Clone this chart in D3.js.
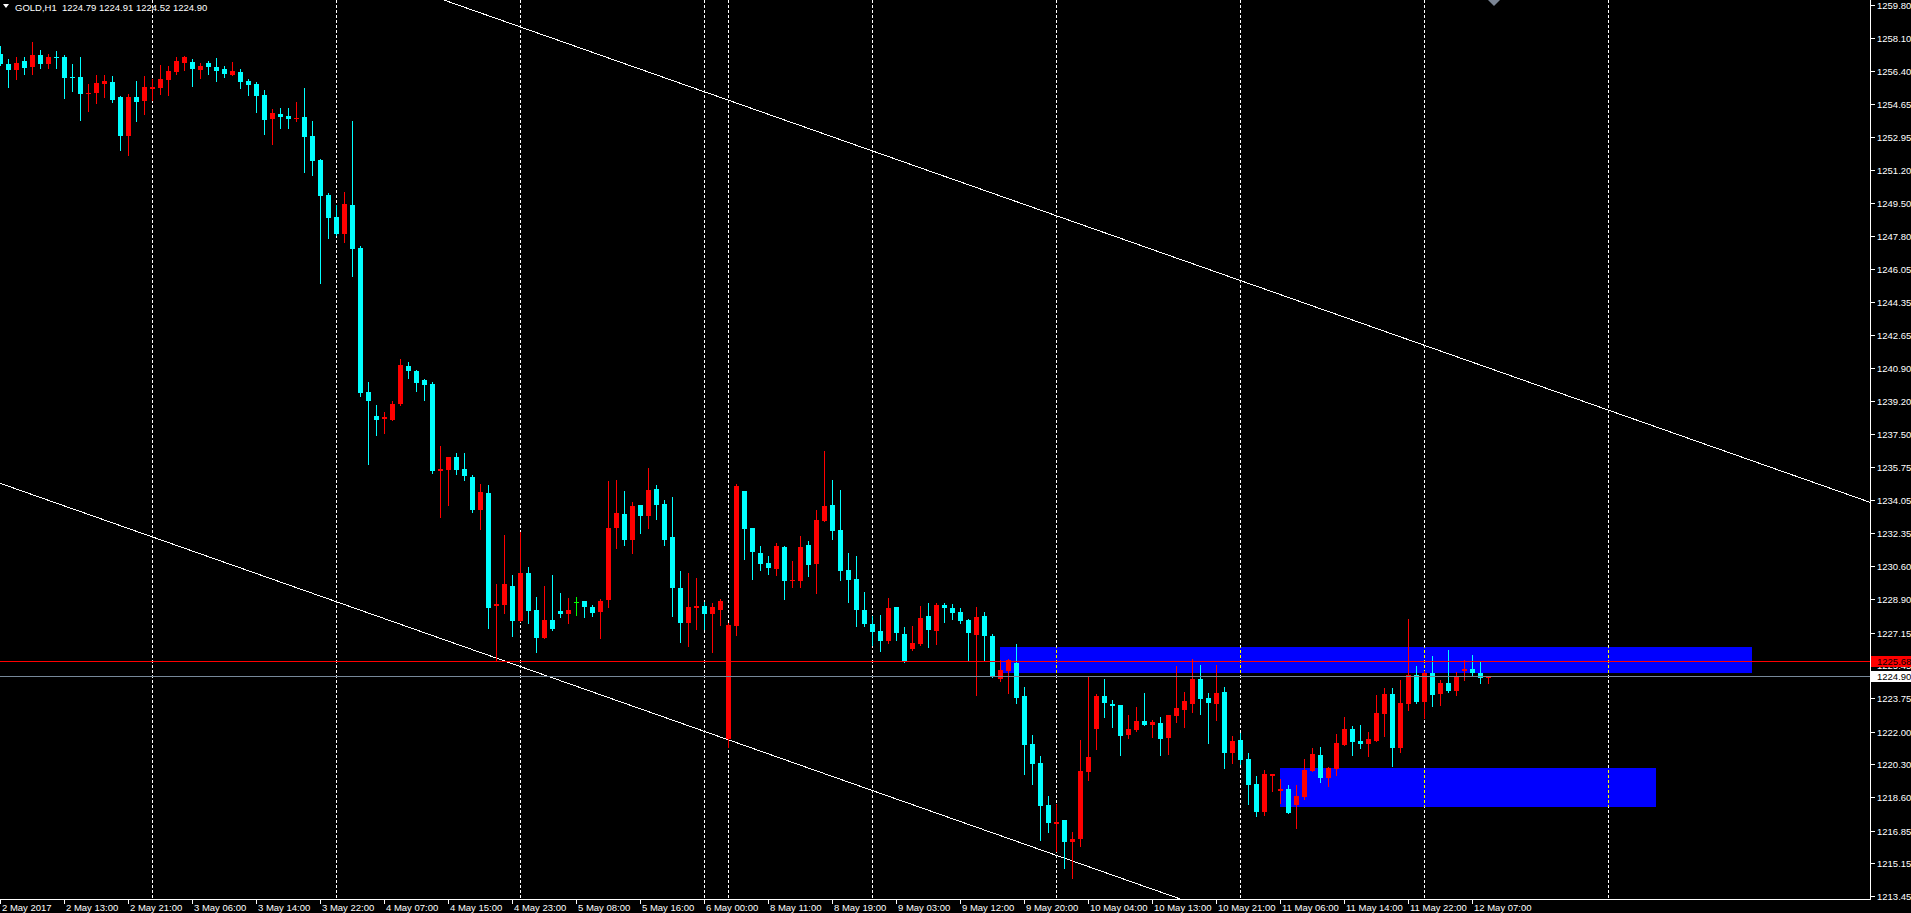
<!DOCTYPE html>
<html><head><meta charset="utf-8">
<script src="https://cdn.jsdelivr.net/npm/d3@7"></script>
<style>html,body{margin:0;padding:0;background:#000;overflow:hidden}svg{display:block}</style>
</head><body><svg id="c" width="1911" height="913"></svg>
<script>
// ---- data (hourly GOLD candles, bar index 0..186) ----
const open  = [1257.26,1256.74,1256.43,1256.90,1256.58,1257.21,1256.74,1257.10,1257.10,1256.06,1256.06,1255.20,1255.23,1255.70,1255.80,1255.02,1253.00,1255.02,1254.82,1255.44,1255.49,1255.91,1256.32,1256.79,1256.84,1256.43,1256.79,1256.58,1256.48,1256.17,1256.32,1255.86,1255.70,1255.13,1253.88,1254.14,1254.03,1253.89,1253.98,1253.00,1251.75,1249.92,1248.78,1247.90,1249.40,1247.17,1239.67,1238.43,1238.27,1238.22,1239.05,1241.03,1240.77,1240.30,1240.09,1235.56,1235.62,1236.29,1235.67,1235.25,1233.54,1234.42,1228.54,1228.59,1229.58,1227.76,1230.26,1228.33,1226.88,1227.81,1228.28,1228.12,1228.77,1228.80,1228.49,1228.23,1228.85,1232.60,1233.33,1231.97,1233.80,1233.22,1234.63,1233.85,1232.13,1229.48,1227.66,1228.44,1228.54,1228.12,1228.33,1221.62,1227.50,1234.52,1232.60,1231.30,1230.78,1230.46,1231.61,1229.84,1229.84,1231.71,1230.73,1232.96,1233.80,1232.49,1230.41,1229.94,1228.33,1227.60,1227.24,1226.72,1228.49,1227.08,1226.30,1226.56,1228.02,1227.24,1228.59,1228.44,1228.23,1227.81,1227.03,1228.02,1226.98,1224.74,1225.16,1225.57,1223.86,1221.36,1220.37,1218.19,1217.20,1217.40,1216.26,1216.42,1219.90,1222.14,1223.86,1223.44,1223.39,1221.83,1222.09,1222.56,1222.35,1222.45,1221.67,1222.82,1223.13,1223.44,1224.74,1223.75,1223.44,1224.07,1220.89,1221.57,1220.58,1219.28,1217.82,1219.70,1218.91,1219.02,1218.19,1218.60,1219.96,1220.79,1219.59,1220.06,1221.31,1222.14,1221.52,1221.36,1221.52,1222.92,1223.96,1221.15,1223.44,1224.95,1223.55,1225.05,1223.96,1224.53,1224.12,1225.16,1225.26,1225.05,1224.79];
const high  = [1257.68,1257.00,1257.09,1257.09,1257.88,1257.47,1257.26,1257.42,1257.21,1256.74,1257.10,1255.70,1256.17,1256.17,1256.12,1255.08,1255.18,1255.86,1256.12,1255.96,1256.69,1256.64,1257.10,1257.16,1257.00,1256.79,1256.90,1257.05,1256.64,1256.84,1256.48,1255.96,1255.80,1255.39,1254.40,1254.45,1254.45,1254.76,1255.49,1253.77,1251.80,1250.03,1249.40,1250.08,1253.77,1247.27,1240.19,1238.99,1238.63,1239.20,1241.39,1241.24,1240.82,1240.35,1240.19,1236.86,1236.32,1236.50,1236.50,1235.36,1234.89,1234.84,1229.68,1232.23,1230.15,1232.39,1230.57,1229.01,1229.58,1230.15,1229.22,1228.96,1229.01,1228.82,1228.59,1228.90,1235.04,1235.10,1234.52,1233.95,1233.82,1235.72,1234.84,1234.05,1234.21,1230.36,1230.26,1230.00,1228.75,1228.70,1228.90,1227.66,1234.89,1234.55,1232.62,1231.66,1231.14,1231.82,1231.66,1230.88,1232.18,1231.92,1233.54,1236.60,1235.10,1234.58,1231.30,1231.14,1229.27,1228.02,1228.07,1228.96,1228.51,1227.45,1227.50,1228.54,1228.70,1228.70,1228.70,1228.64,1228.44,1227.86,1228.49,1228.23,1227.08,1225.73,1225.78,1226.56,1224.33,1221.83,1220.74,1218.65,1218.24,1217.42,1216.78,1221.57,1224.85,1223.96,1224.74,1223.65,1223.41,1222.87,1223.29,1224.01,1222.61,1222.76,1222.89,1225.42,1224.07,1225.78,1225.47,1224.01,1225.47,1224.33,1221.78,1221.93,1220.89,1219.70,1220.01,1219.82,1219.54,1219.23,1219.23,1220.58,1221.15,1221.20,1220.16,1221.88,1222.76,1222.30,1222.35,1221.98,1223.91,1224.27,1224.27,1224.69,1227.86,1225.42,1225.16,1225.94,1224.69,1226.25,1225.11,1225.73,1225.99,1225.63,1224.91];
const low   = [1256.69,1255.56,1255.96,1256.24,1256.24,1256.55,1256.55,1256.55,1254.97,1255.33,1253.83,1254.29,1254.71,1255.02,1254.76,1252.27,1252.01,1253.77,1254.14,1254.87,1255.18,1255.13,1256.22,1256.43,1255.60,1256.01,1256.22,1255.86,1256.06,1256.15,1255.49,1255.13,1254.24,1253.10,1252.58,1253.41,1253.41,1253.77,1251.12,1250.96,1245.35,1247.69,1247.85,1247.48,1245.71,1239.47,1235.93,1237.44,1237.54,1238.20,1238.99,1240.40,1239.73,1239.26,1235.46,1233.17,1233.80,1235.41,1235.10,1233.43,1232.55,1227.40,1225.73,1228.18,1226.98,1227.74,1227.66,1226.15,1226.86,1227.32,1227.97,1227.66,1228.07,1227.97,1228.02,1226.88,1228.49,1231.56,1231.71,1231.30,1232.34,1232.60,1233.07,1231.71,1228.02,1226.67,1226.46,1227.34,1227.34,1226.15,1227.55,1221.20,1227.03,1230.99,1229.94,1230.41,1230.20,1230.15,1228.90,1229.53,1229.53,1230.10,1229.22,1232.94,1232.03,1229.89,1228.75,1227.50,1227.50,1226.51,1226.20,1226.61,1226.77,1225.62,1226.25,1226.54,1226.41,1226.56,1227.71,1227.86,1227.66,1225.68,1223.91,1225.68,1224.83,1224.64,1224.01,1223.49,1219.80,1219.28,1216.36,1216.78,1215.79,1214.91,1214.39,1216.05,1219.49,1221.10,1222.76,1222.25,1220.79,1221.67,1222.04,1222.33,1221.72,1220.79,1220.84,1222.50,1222.25,1223.02,1222.92,1221.41,1222.61,1220.11,1220.37,1220.32,1218.24,1217.61,1217.67,1218.91,1218.29,1217.75,1216.99,1218.50,1219.94,1219.38,1219.17,1219.75,1221.29,1220.79,1221.15,1220.74,1221.50,1221.78,1220.22,1220.94,1223.13,1223.49,1222.71,1223.34,1223.39,1224.07,1223.91,1224.69,1224.90,1224.53,1224.52];
const close = [1256.74,1256.43,1256.79,1256.53,1257.21,1256.74,1257.10,1257.06,1256.01,1256.02,1255.18,1255.23,1255.75,1255.86,1254.87,1253.00,1255.02,1254.76,1255.54,1255.54,1255.96,1256.38,1256.90,1257.10,1256.48,1256.64,1256.58,1256.38,1256.22,1256.38,1255.80,1255.65,1255.08,1253.83,1254.19,1253.98,1253.88,1253.93,1252.94,1251.70,1249.87,1248.73,1247.90,1249.46,1247.11,1239.64,1239.20,1238.22,1238.37,1239.05,1241.08,1240.77,1240.14,1240.04,1235.56,1235.67,1236.29,1235.62,1235.30,1233.54,1234.47,1228.44,1228.64,1229.68,1227.76,1230.26,1228.28,1226.88,1227.81,1227.34,1228.12,1228.33,1228.77,1228.49,1228.18,1228.80,1232.60,1233.38,1231.97,1233.74,1233.22,1234.58,1233.80,1231.97,1229.48,1227.66,1228.49,1228.54,1228.12,1228.49,1228.80,1227.55,1234.78,1232.55,1231.35,1230.73,1230.52,1231.66,1229.84,1229.89,1231.61,1230.67,1233.01,1233.74,1232.44,1230.36,1229.89,1228.33,1227.60,1227.19,1226.72,1228.44,1227.14,1225.65,1226.61,1227.92,1227.29,1228.59,1228.44,1228.18,1227.76,1227.14,1227.97,1226.98,1224.85,1225.21,1225.73,1223.75,1221.31,1220.32,1218.13,1217.25,1217.30,1216.26,1216.42,1219.96,1220.68,1223.86,1223.49,1223.34,1221.78,1222.14,1222.56,1222.35,1222.50,1221.62,1222.87,1223.23,1223.60,1224.74,1223.70,1223.49,1224.01,1220.89,1221.52,1220.53,1219.23,1217.82,1219.80,1219.80,1219.02,1217.77,1218.65,1220.01,1220.84,1219.59,1220.11,1221.41,1222.14,1221.46,1221.36,1221.62,1222.97,1223.96,1221.15,1223.49,1224.95,1223.55,1225.05,1223.91,1224.53,1224.12,1224.90,1225.26,1225.05,1224.79,1224.90];

const xLabels = ["2 May 2017","2 May 13:00","2 May 21:00","3 May 06:00","3 May 14:00","3 May 22:00","4 May 07:00","4 May 15:00","4 May 23:00","5 May 08:00","5 May 16:00","6 May 00:00","8 May 11:00","8 May 19:00","9 May 03:00","9 May 12:00","9 May 20:00","10 May 04:00","10 May 13:00","10 May 21:00","11 May 06:00","11 May 14:00","11 May 22:00","12 May 07:00"];
const xLabelBars = [0,8,16,24,32,40,48,56,64,72,80,88,96,104,112,120,128,136,144,152,160,168,176,184];
const yTicks = [1259.80,1258.10,1256.40,1254.65,1252.95,1251.20,1249.50,1247.80,1246.05,1244.35,1242.65,1240.90,1239.20,1237.50,1235.75,1234.05,1232.35,1230.60,1228.90,1227.15,1225.45,1223.75,1222.00,1220.30,1218.60,1216.85,1215.15,1213.45];
const separatorBars = [19,42,65,88,91,109,132,155,178,201];
const trendUpper = [{bar:40, price:1262.33},{bar:230, price:1234.48}];
const trendLower = [{bar:0, price:1234.92},{bar:150, price:1212.93}];
const zones = [{from:125, to:219, top:1226.41, bottom:1225.06},{from:160, to:207, top:1220.11, bottom:1218.08}];
const levelPrice = 1225.68;
const bidPrice = 1224.90;
const shiftBar = 186.7;
const titleText = "GOLD,H1  1224.79 1224.91 1224.52 1224.90";

// ---- layout ----
const W = 1911, H = 913, plotR = 1870, plotB = 899;
const FONT = "'Liberation Sans', Arial, sans-serif";
const svg = d3.select("#c");
svg.append("rect").attr("width", W).attr("height", H).attr("fill", "#000");

const x = d3.scaleLinear().domain([0, 1]).range([0.5, 8.5]);
const y = d3.scaleLinear().domain([1213.30, 1260.07]).range([plotB, 0]);
const lastBar = x.invert(plotR + 10);

svg.append("clipPath").attr("id", "pc").append("rect").attr("x", 0).attr("y", 0).attr("width", plotR).attr("height", plotB);
const plot = svg.append("g").attr("clip-path", "url(#pc)");

// zones
plot.selectAll("rect.zone").data(zones).enter().append("rect")
  .attr("x", d => Math.floor(x(d.from)))
  .attr("width", d => Math.floor(x(d.to)) - Math.floor(x(d.from)))
  .attr("y", d => Math.round(y(d.top)))
  .attr("height", d => Math.round(y(d.bottom)) - Math.round(y(d.top)))
  .attr("fill", "#0000ff").attr("shape-rendering", "crispEdges");

// day separators
plot.selectAll("line.sep").data(separatorBars).enter().append("line")
  .attr("x1", d => Math.floor(x(d)) + 0.5).attr("x2", d => Math.floor(x(d)) + 0.5)
  .attr("y1", 0).attr("y2", plotB)
  .attr("stroke", "#fff").attr("stroke-width", 1).attr("stroke-dasharray", "3,2")
  .attr("shape-rendering", "crispEdges").style("mix-blend-mode", "difference");

// trend lines (rays extended to the right edge)
[trendUpper, trendLower].forEach(t => {
  const slope = (t[1].price - t[0].price) / (t[1].bar - t[0].bar);
  const endBar = lastBar;
  plot.append("line")
    .attr("x1", x(t[0].bar)).attr("y1", y(t[0].price))
    .attr("x2", x(endBar)).attr("y2", y(t[0].price + slope * (endBar - t[0].bar)))
    .attr("stroke", "#fff").attr("stroke-width", 1).attr("shape-rendering", "crispEdges");
});

// candles
const bars = d3.range(open.length).map(i => ({i, o: open[i], h: high[i], l: low[i], c: close[i]}));
const col = d => d.c > d.o ? "#ff0000" : (d.c < d.o ? "#00ffff" : "#00ff00");
const g = plot.append("g").attr("shape-rendering", "crispEdges");
g.selectAll("rect.wick").data(bars).enter().append("rect")
  .attr("x", d => Math.floor(x(d.i)))
  .attr("width", 1)
  .attr("y", d => Math.round(y(d.h)))
  .attr("height", d => Math.round(y(d.l)) - Math.round(y(d.h)) + 1)
  .attr("fill", col);
g.selectAll("rect.body").data(bars).enter().append("rect")
  .attr("x", d => Math.floor(x(d.i)) - 2)
  .attr("width", 5)
  .attr("y", d => Math.round(y(Math.max(d.o, d.c))))
  .attr("height", d => Math.max(1, Math.round(y(Math.min(d.o, d.c))) - Math.round(y(Math.max(d.o, d.c)))))
  .attr("fill", col);

// level line and bid line
plot.append("line").attr("x1", 0).attr("x2", plotR)
  .attr("y1", Math.round(y(levelPrice)) + 0.5).attr("y2", Math.round(y(levelPrice)) + 0.5)
  .attr("stroke", "#ff0000").attr("stroke-width", 1);
plot.append("line").attr("x1", 0).attr("x2", plotR)
  .attr("y1", Math.round(y(bidPrice)) + 0.5).attr("y2", Math.round(y(bidPrice)) + 0.5)
  .attr("stroke", "#778899").attr("stroke-width", 1);

// chart shift marker
const sx = Math.floor(x(shiftBar));
svg.append("path").attr("d", `M${sx - 6},0 L${sx + 6},0 L${sx},6 Z`).attr("fill", "#7b8594");

// axes lines
svg.append("line").attr("x1", plotR + 0.5).attr("x2", plotR + 0.5).attr("y1", 0).attr("y2", plotB + 1)
  .attr("stroke", "#fff").attr("shape-rendering", "crispEdges");
svg.append("line").attr("x1", 0).attr("x2", plotR + 1).attr("y1", plotB + 0.5).attr("y2", plotB + 0.5)
  .attr("stroke", "#fff").attr("shape-rendering", "crispEdges");

// y axis ticks & labels
const ya = svg.append("g");
ya.selectAll("line").data(yTicks).enter().append("line")
  .attr("x1", plotR + 1).attr("x2", plotR + 5)
  .attr("y1", d => Math.round(y(d)) + 0.5).attr("y2", d => Math.round(y(d)) + 0.5)
  .attr("stroke", "#fff").attr("shape-rendering", "crispEdges");
ya.selectAll("text").data(yTicks).enter().append("text")
  .attr("x", plotR + 7).attr("y", d => Math.round(y(d)) + 0.5)
  .attr("dominant-baseline", "central")
  .attr("fill", "#fff").attr("font-family", FONT).attr("font-size", "9.5px")
  .text(d => d.toFixed(2));

// price boxes
[{p: levelPrice, bg: "#ff0000", fg: "#000"}, {p: bidPrice, bg: "#fff", fg: "#000"}].forEach(b => {
  const cy = Math.round(y(b.p));
  svg.append("rect").attr("x", plotR + 1).attr("y", cy - 5).attr("width", W - plotR - 1).attr("height", 11)
    .attr("fill", b.bg).attr("shape-rendering", "crispEdges");
  svg.append("text").attr("x", plotR + 7).attr("y", cy + 0.5).attr("dominant-baseline", "central")
    .attr("fill", b.fg).attr("font-family", FONT).attr("font-size", "9.5px").text(b.p.toFixed(2));
});

// x axis labels
const xa = svg.append("g");
xa.selectAll("line").data(xLabelBars).enter().append("line")
  .attr("x1", d => Math.floor(x(d)) + 0.5).attr("x2", d => Math.floor(x(d)) + 0.5)
  .attr("y1", plotB + 1).attr("y2", plotB + 5)
  .attr("stroke", "#fff").attr("shape-rendering", "crispEdges");
xa.selectAll("text").data(xLabels).enter().append("text")
  .attr("x", (d, k) => Math.floor(x(xLabelBars[k])) + 2)
  .attr("y", 911)
  .attr("fill", "#fff").attr("font-family", FONT).attr("font-size", "9.5px")
  .text(d => d);

// title
svg.append("path").attr("d", "M3,4 L9,4 L6,8 Z").attr("fill", "#fff");
svg.append("text").attr("x", 15).attr("y", 7).attr("dominant-baseline", "central")
  .attr("fill", "#fff").attr("font-family", FONT).attr("font-size", "9.5px")
  .attr("xml:space", "preserve").style("white-space", "pre").text(titleText);
</script></body></html>
